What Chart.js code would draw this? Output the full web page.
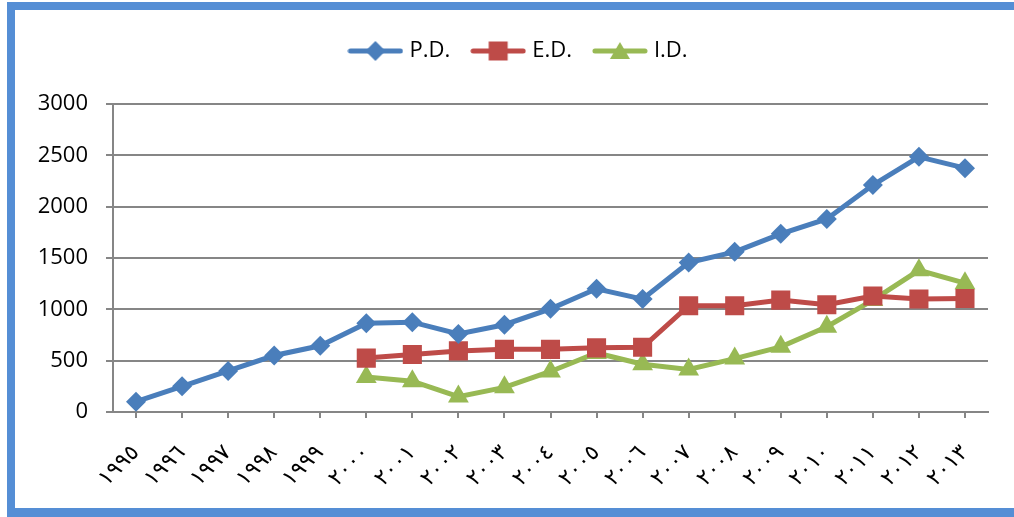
<!DOCTYPE html>
<html>
<head>
<meta charset="utf-8">
<script src="https://cdn.jsdelivr.net/npm/chart.js@4"></script>
<style>
  html, body { margin: 0; padding: 0; background: #ffffff; }
  #wrap { position: relative; width: 1014px; height: 517px; overflow: hidden; background: #ffffff; }
  #frame { position: absolute; left: 7px; top: 2px; width: 1100px; height: 515px;
           border-left: 8px solid #558ED5; border-top: 8px solid #558ED5; border-bottom: 9px solid #558ED5; box-sizing: border-box; }
  canvas { position: absolute; left: 0; top: 0; }
</style>
</head>
<body>
<div id="wrap">
  <div id="frame"></div>
  <canvas id="c" width="1014" height="517"></canvas>
</div>
<script>
// ---- data ----
const years = ['١٩٩٥','١٩٩٦','١٩٩٧','١٩٩٨','١٩٩٩','٢٠٠٠','٢٠٠١','٢٠٠٢','٢٠٠٣','٢٠٠٤','٢٠٠٥','٢٠٠٦','٢٠٠٧','٢٠٠٨','٢٠٠٩','٢٠١٠','٢٠١١','٢٠١٢','٢٠١٣'];
const seriesNames = ['P.D.', 'E.D.', 'I.D.'];
const pdValues = [100, 250, 400, 550, 645, 865, 875, 760, 850, 1005, 1200, 1100, 1455, 1560, 1735, 1880, 2210, 2485, 2375];
const edValues = [null, null, null, null, null, 525, 560, 595, 610, 610, 625, 630, 1035, 1035, 1090, 1045, 1130, 1100, 1105];
const idValues = [null, null, null, null, null, 340, 300, 150, 240, 395, 575, 465, 415, 520, 635, 830, 1090, 1380, 1255];
const yTicks = [0, 500, 1000, 1500, 2000, 2500, 3000];

const colors = ['#4A7EBB', '#BE4B48', '#98B954'];
const styles = ['rectRot', 'rect', 'triangle'];
const radii = [10, 13.5, 12];

// legend swatch: line with marker, drawn as a canvas image used as pointStyle
function swatch(color, style) {
  const cv = document.createElement('canvas');
  cv.width = 56; cv.height = 22;
  const g = cv.getContext('2d');
  g.strokeStyle = color; g.lineWidth = 5; g.lineCap = 'round';
  g.beginPath(); g.moveTo(3, 11); g.lineTo(53, 11); g.stroke();
  g.fillStyle = color;
  g.beginPath();
  if (style === 'rectRot') { g.moveTo(28, 1); g.lineTo(38, 11); g.lineTo(28, 21); g.lineTo(18, 11); }
  else if (style === 'rect') { g.rect(18.5, 1.5, 19, 19); }
  else { g.moveTo(28, 2); g.lineTo(38, 19); g.lineTo(18, 19); }
  g.closePath(); g.fill();
  return cv;
}
const swatches = colors.map((c, i) => swatch(c, styles[i]));

const valueSets = [pdValues, edValues, idValues];
const datasets = seriesNames.map((n, i) => ({
  label: n,
  data: valueSets[i],
  borderColor: colors[i],
  backgroundColor: colors[i],
  pointBackgroundColor: colors[i],
  pointBorderColor: colors[i],
  pointBorderWidth: 0,
  borderWidth: 5,
  pointStyle: styles[i],
  pointRadius: radii[i],
  pointHoverRadius: radii[i],
  tension: 0,
  spanGaps: false
}));

const fixLegend = {
  id: 'fixLegend',
  beforeLayout(chart) {
    const lg = chart.legend;
    if (lg && !lg._fixed) {
      const orig = lg.fit;
      lg.fit = function () { orig.call(this); this.height = 89; };
      lg._fixed = true;
    }
  },
  afterLayout(chart) {
    const lg = chart.legend;
    if (lg) { lg.left = 52; }
  }
};

new Chart(document.getElementById('c'), {
  type: 'line',
  data: { labels: years, datasets },
  plugins: [fixLegend],
  options: {
    responsive: false,
    animation: false,
    events: [],
    layout: { padding: { top: 15, left: 0, right: 26, bottom: 0 } },
    plugins: {
      tooltip: { enabled: false },
      legend: {
        position: 'top',
        align: 'center',
        labels: {
          usePointStyle: true,
          pointStyleWidth: 46,
          padding: 25,
          color: '#000000',
          font: { family: 'Open Sans', size: 22 },
          generateLabels(chart) {
            return chart.data.datasets.map((d, i) => ({
              text: d.label, pointStyle: swatches[i], fillStyle: colors[i],
              strokeStyle: colors[i], lineWidth: 0, hidden: false, datasetIndex: i, fontColor: '#000'
            }));
          }
        }
      }
    },
    scales: {
      x: {
        offset: true,
        grid: { display: true, drawOnChartArea: false, drawTicks: true, tickLength: 6, offset: false, color: '#868686', lineWidth: 2 },
        border: { display: true, color: '#868686', width: 2 },
        ticks: {
          autoSkip: false, maxRotation: 45, minRotation: 45, padding: 22,
          color: '#000000', font: { family: 'DejaVu Sans', size: 22 }
        },
        afterFit(s) { s.height = 105; }
      },
      y: {
        min: 0, max: 3000,
        afterBuildTicks(s) { s.ticks = yTicks.map(v => ({ value: v })); },
        grid: { color: '#868686', lineWidth: 2, tickLength: 7, drawTicks: true },
        border: { display: true, color: '#868686', width: 2 },
        ticks: { padding: 18, color: '#000000', font: { family: 'Open Sans', size: 22 },
                 callback: v => String(v) },
        afterFit(s) { s.width = 113; }
      }
    }
  }
});
</script>
</body>
</html>
